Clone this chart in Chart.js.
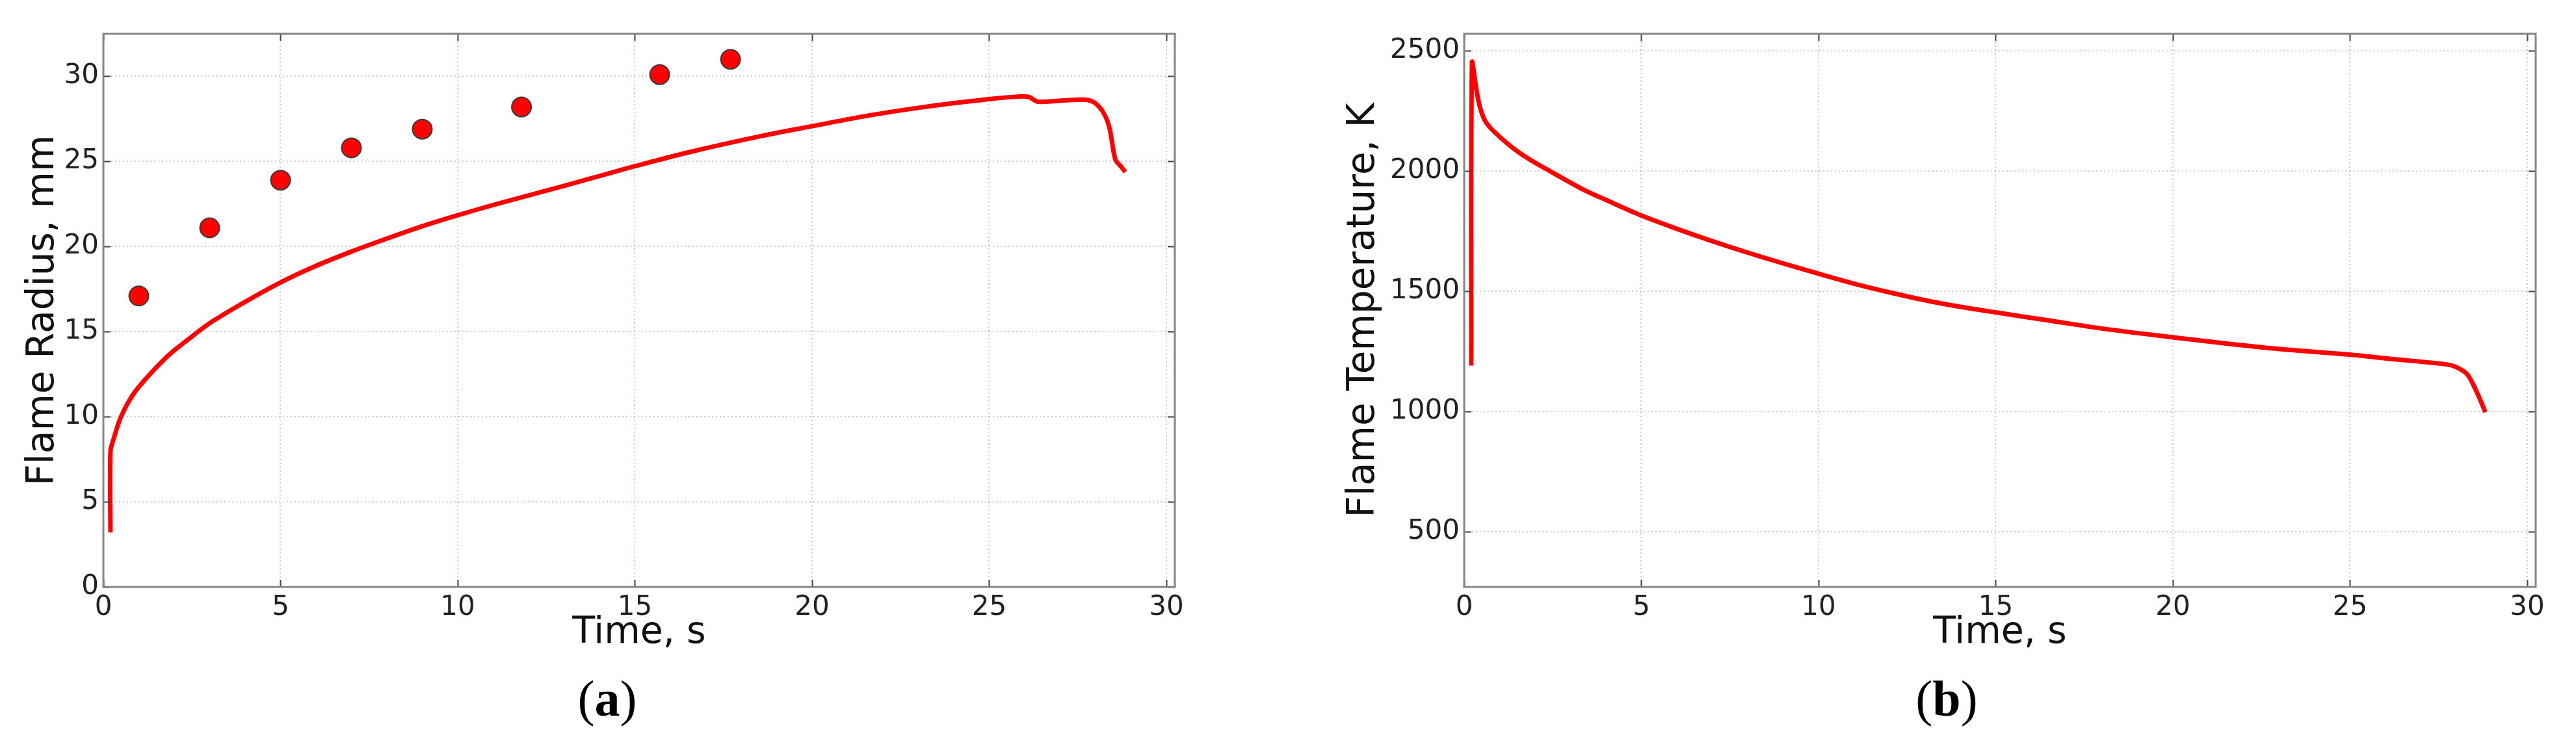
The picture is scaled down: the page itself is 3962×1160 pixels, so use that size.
<!DOCTYPE html>
<html>
<head>
<meta charset="utf-8">
<script src="https://cdn.jsdelivr.net/npm/chart.js@4.4.1/dist/chart.umd.min.js"></script>
<style>
  body { margin: 0; background: #fff; width: 3962px; height: 1160px; position: relative; overflow: hidden; }
  canvas { position: absolute; top: 0; }
  #chartA { left: 0; }
  #chartB { left: 1980px; }
  .cap { position: absolute; top: 1036px; font-family: "Liberation Serif", "DejaVu Serif", serif; font-size: 78px; line-height: 78px; color: #000; transform: translateX(-50%); white-space: nowrap; }
  .cap b { font-weight: bold; }
</style>
</head>
<body>
<canvas id="chartA" width="1900" height="1160"></canvas>
<canvas id="chartB" width="1982" height="1160"></canvas>
<div class="cap" style="left:934px">(<b>a</b>)</div>
<div class="cap" style="left:2994px">(<b>b</b>)</div>
<script>
// (a) simulated flame radius, mm
let radiusTime = [0.2, 0.2, 0.29, 0.49, 0.85, 1.36, 1.87, 2.38, 2.99, 3.91, 4.98, 5.95, 7.02, 7.99, 9.01, 10.0,
    11.05, 12.07, 13.09, 14.1, 15.0, 16.54, 18.58, 20.0, 21.63, 23.16, 24.99, 25.81, 26.12, 26.37, 27.23,
    27.74, 28.0, 28.25, 28.4, 28.56, 28.72, 28.84];
let radius = [3.2, 7.95, 8.7, 9.96, 11.34, 12.6, 13.67, 14.52, 15.48, 16.64, 17.87, 18.82, 19.72, 20.46, 21.2, 21.84,
    22.47, 23.04, 23.62, 24.2, 24.72, 25.55, 26.5, 27.07, 27.71, 28.2, 28.66, 28.81, 28.79, 28.51, 28.6,
    28.62, 28.41, 27.77, 26.92, 25.12, 24.7, 24.38];

// (a) measured points
let expTime = [1.0, 3.0, 5.0, 7.0, 9.0, 11.8, 15.7, 17.7];
let expRadius = [17.1, 21.1, 23.9, 25.8, 26.9, 28.2, 30.1, 31.0];

// (b) flame temperature, K
let tempTime = [0.2, 0.22, 0.34, 0.44, 0.59, 0.79, 1.3, 1.81, 2.42, 3.34, 4.05, 4.99, 5.89, 6.9, 7.92, 8.94,
    9.99, 10.98, 12.0, 13.01, 14.03, 15.02, 16.5, 18.02, 20.0, 21.59, 23.11, 24.98, 26.17, 27.7, 28.0,
    28.31, 28.56, 28.82];
let temp = [1190, 2450, 2343, 2268, 2208, 2171, 2104, 2051, 1999, 1924, 1876, 1815, 1765, 1713, 1664, 1618,
    1573, 1532, 1495, 1462, 1434, 1411, 1378, 1344, 1308, 1281, 1258, 1236, 1218, 1196, 1184,
    1154, 1086, 997];

// axis limits and tick labels
let xLimits = [0, 30.24];
let radiusLimits = [0, 32.5];
let tempLimits = [270, 2570];
let xTicks = [0, 5, 10, 15, 20, 25, 30];
let radiusTicks = [0, 5, 10, 15, 20, 25, 30];
let tempTicks = [500, 1000, 1500, 2000, 2500];

const FONT = "DejaVu Sans";

function points(xs, ys) {
    return xs.map((x, i) => ({ x: x, y: ys[i] }));
}

// matplotlib style box + inward ticks on all four sides
const framePlugin = {
    id: "frame",
    afterDatasetsDraw(chart) {
        const { ctx, chartArea: a, scales } = chart;
        const tl = 11;
        ctx.save();
        ctx.strokeStyle = "#444";
        ctx.lineWidth = 2;
        ctx.beginPath();
        scales.x.ticks.forEach(t => {
            const px = Math.round(scales.x.getPixelForValue(t.value)) + 0.5;
            ctx.moveTo(px, a.bottom); ctx.lineTo(px, a.bottom - tl);
            ctx.moveTo(px, a.top); ctx.lineTo(px, a.top + tl);
        });
        scales.y.ticks.forEach(t => {
            const py = Math.round(scales.y.getPixelForValue(t.value)) + 0.5;
            ctx.moveTo(a.left, py); ctx.lineTo(a.left + tl, py);
            ctx.moveTo(a.right, py); ctx.lineTo(a.right - tl, py);
        });
        ctx.stroke();
        ctx.strokeStyle = "#858585";
        ctx.lineWidth = 3;
        ctx.strokeRect(a.left, a.top, a.right - a.left, a.bottom - a.top);
        ctx.restore();
    }
};

function makeOptions(yMin, yMax, yTicks, yLabel, yWidth, yTitlePad, rightPad) {
    return {
        responsive: false,
        animation: false,
        layout: { padding: { top: 52, right: rightPad, bottom: 150, left: 0 } },
        plugins: { legend: { display: false }, tooltip: { enabled: false } },
        scales: {
            x: {
                type: "linear",
                min: xLimits[0],
                max: xLimits[1],
                afterFit: s => { s.height = 107; },
                afterBuildTicks: s => { s.ticks = xTicks.map(v => ({ value: v })); },
                ticks: { padding: 7, maxRotation: 0, autoSkip: false, callback: v => String(v),
                    color: "#222", font: { family: FONT, size: 42 } },
                grid: { color: "rgba(0,0,0,0.2)", lineWidth: 2, drawTicks: false },
                border: { display: false, dash: [2, 4] },
                title: { display: true, text: "Time, s", color: "#111",
                    font: { family: FONT, size: 57 }, padding: { top: 0, bottom: 2 } }
            },
            y: {
                type: "linear",
                min: yMin,
                max: yMax,
                afterFit: s => { s.width = yWidth; },
                afterBuildTicks: s => { s.ticks = yTicks.map(v => ({ value: v })); },
                ticks: { padding: 7, autoSkip: false, callback: v => String(v),
                    color: "#222", font: { family: FONT, size: 42 } },
                grid: { color: "rgba(0,0,0,0.2)", lineWidth: 2, drawTicks: false },
                border: { display: false, dash: [2, 4] },
                title: { display: true, text: yLabel, color: "#111",
                    font: { family: FONT, size: 58 }, padding: { top: yTitlePad, bottom: 0 } }
            }
        }
    };
}

new Chart(document.getElementById("chartA").getContext("2d"), {
    type: "scatter",
    data: {
        datasets: [{
            label: "Simulation",
            data: points(radiusTime, radius),
            showLine: true,
            borderColor: "#ff0000",
            borderWidth: 7,
            pointRadius: 0,
            tension: 0.3
        }, {
            label: "Experiment",
            data: points(expTime, expRadius),
            showLine: false,
            backgroundColor: "#ff0000",
            borderColor: "#3a3a3a",
            pointBorderWidth: 2,
            pointRadius: 15
        }]
    },
    options: makeOptions(radiusLimits[0], radiusLimits[1], radiusTicks, "Flame Radius, mm", 159, 32, 93),
    plugins: [framePlugin]
});

new Chart(document.getElementById("chartB").getContext("2d"), {
    type: "scatter",
    data: {
        datasets: [{
            label: "Temperature",
            data: points(tempTime, temp),
            showLine: true,
            borderColor: "#ff0000",
            borderWidth: 7,
            pointRadius: 0,
            tension: 0.3
        }]
    },
    options: makeOptions(tempLimits[0], tempLimits[1], tempTicks, "Flame Temperature, K", 272, 83, 62),
    plugins: [framePlugin]
});
</script>
</body>
</html>
